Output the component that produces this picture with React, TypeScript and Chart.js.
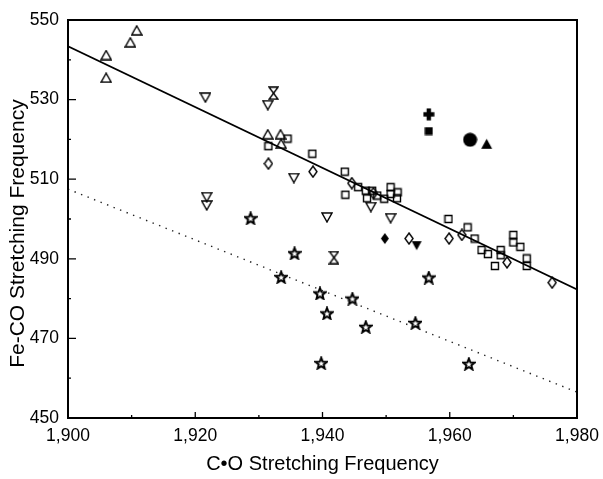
import { useEffect, useRef } from 'react';
import { Chart, registerables } from 'chart.js';
Chart.register(...registerables);

// ---- data (C-O frequency, Fe-CO frequency) ----
const openTriangleUp: [number, number][] = [
  [1906, 541.2], [1906, 535.5], [1909.8, 544.4], [1910.8, 547.4],
  [1931.4, 521.3], [1933.4, 521.3], [1933.5, 518.9],
];
const openTriangleDown: [number, number][] = [
  [1921.6, 530.5], [1931.4, 528.6], [1935.5, 510.3], [1940.7, 500.4],
  [1950.7, 500.2], [1947.6, 503.0], [1921.8, 505.5], [1921.8, 503.4],
];
const hourglass: [number, number][] = [
  [1932.3, 531.6], [1941.8, 490.3],
];
const openSquare: [number, number][] = [
  [1934.5, 520.2], [1931.5, 518.3], [1938.4, 516.4], [1943.5, 511.9],
  [1945.6, 508.0], [1943.6, 506.1], [1946.8, 507.1], [1947.8, 507.1],
  [1948.6, 505.9], [1947.0, 505.2], [1950.7, 508.0], [1950.7, 506.3],
  [1951.7, 505.2], [1949.7, 505.1], [1951.8, 506.7], [1959.8, 500.0],
  [1962.8, 497.9], [1963.9, 495.1], [1965.0, 492.2], [1966.0, 491.2],
  [1968.0, 492.2], [1968.0, 490.9], [1967.1, 488.2], [1970.0, 496.0],
  [1970.0, 494.1], [1971.1, 493.0], [1972.1, 490.1], [1972.1, 488.2],
];
const openDiamond: [number, number][] = [
  [1931.5, 513.9], [1938.5, 511.9], [1944.6, 509.0], [1948.0, 506.5],
  [1953.6, 495.1], [1959.9, 495.1], [1961.9, 496.0], [1969.0, 489.1],
  [1976.1, 484.0],
];
const openStar: [number, number][] = [
  [1928.7, 500.2], [1935.6, 491.4], [1933.5, 485.4], [1939.6, 481.3],
  [1944.7, 480.0], [1940.7, 476.3], [1946.8, 472.9], [1939.8, 463.8],
  [1954.6, 473.9], [1956.7, 485.3], [1963.0, 463.6],
];
const filledDiamond: [number, number][] = [[1949.8, 495.1]];
const filledTriangleDown: [number, number][] = [[1954.8, 493.3]];
const filledCross: [number, number][] = [[1956.7, 526.3]];
const filledSquare: [number, number][] = [[1956.7, 522.1]];
const filledCircle: [number, number][] = [[1963.2, 519.9]];
const filledTriangleUp: [number, number][] = [[1965.8, 518.9]];

const fitLine: [number, number][] = [[1900, 543.4], [1980, 482.3]];
const dottedLine: [number, number][] = [[1900, 507.5], [1980, 456.5]];

const xTickValues = [1900, 1920, 1940, 1960, 1980];
const xMinorTicks = [1910, 1930, 1950, 1970];
const yTickValues = [450, 470, 490, 510, 530, 550];
const yMinorTicks = [460, 480, 500, 520, 540];

const xTitle = 'C\u2022O Stretching Frequency';
const yTitle = 'Fe-CO Stretching Frequency     ';

// ---- marker images ----
function marker(kind: string): HTMLCanvasElement {
  const c = document.createElement('canvas');
  const sizes: Record<string, [number, number]> = {
    triUp: [12, 11], triDown: [12, 11], square: [10, 10], diamond: [10, 13],
    star: [14, 14], hourglass: [11, 14], fDiamond: [10, 13], fTriDown: [12, 11],
    fCross: [12, 13], fSquare: [9, 9], fCircle: [15, 15], fTriUp: [13, 12],
  };
  const [w, h] = sizes[kind];
  c.width = w; c.height = h;
  const ctx = c.getContext('2d')!;
  ctx.strokeStyle = '#000';
  ctx.fillStyle = '#000';
  ctx.lineWidth = 1.4;
  ctx.lineJoin = 'miter';
  const poly = (pts: number[][], fill = false) => {
    ctx.beginPath();
    pts.forEach(([x, y], i) => (i ? ctx.lineTo(x, y) : ctx.moveTo(x, y)));
    ctx.closePath();
    if (fill) ctx.fill(); else ctx.stroke();
  };
  switch (kind) {
    case 'triUp': poly([[w / 2, 1], [w - 1, h - 1], [1, h - 1]]); break;
    case 'triDown': poly([[1, 1], [w - 1, 1], [w / 2, h - 1]]); break;
    case 'square': poly([[1.5, 1.5], [w - 1.5, 1.5], [w - 1.5, h - 1.5], [1.5, h - 1.5]]); break;
    case 'diamond': poly([[w / 2, 1], [w - 1, h / 2], [w / 2, h - 1], [1, h / 2]]); break;
    case 'fDiamond': poly([[w / 2, 1], [w - 1, h / 2], [w / 2, h - 1], [1, h / 2]], true); break;
    case 'fTriDown': poly([[1, 1], [w - 1, 1], [w / 2, h - 1]], true); break;
    case 'fTriUp': poly([[w / 2, 1], [w - 1, h - 1], [1, h - 1]], true); break;
    case 'fSquare': ctx.fillRect(0.5, 0.5, w - 1, h - 1); break;
    case 'fCircle': ctx.beginPath(); ctx.arc(w / 2, h / 2, w / 2 - 0.5, 0, Math.PI * 2); ctx.fill(); break;
    case 'fCross':
      ctx.fillRect(w / 2 - 2.2, 0.5, 4.4, h - 1);
      ctx.fillRect(0.5, h / 2 - 2.2, w - 1, 4.4);
      break;
    case 'hourglass':
      poly([[1, 1], [w - 1, 1], [w / 2, h / 2]]);
      poly([[w / 2, h / 2], [w - 1, h - 1], [1, h - 1]]);
      break;
    case 'star': {
      ctx.lineWidth = 2;
      const pts: number[][] = [];
      for (let i = 0; i < 10; i++) {
        const r = i % 2 === 0 ? 6 : 2.6;
        const a = -Math.PI / 2 + (i * Math.PI) / 5;
        pts.push([w / 2 + r * Math.cos(a), h / 2 + 0.6 + r * Math.sin(a)]);
      }
      poly(pts);
      break;
    }
  }
  return c;
}

const toXY = (arr: [number, number][]) => arr.map(([x, y]) => ({ x, y }));

const framePlugin = {
  id: 'frame',
  afterDraw(chart: any) {
    const { ctx, chartArea, scales } = chart;
    const { left, right, top, bottom } = chartArea;
    const xs = scales.x, ys = scales.y;
    ctx.save();
    ctx.strokeStyle = '#000';
    ctx.lineWidth = 2;
    ctx.strokeRect(left, top, right - left, bottom - top);
    ctx.lineWidth = 1.3;
    ctx.beginPath();
    xTickValues.forEach((v) => {
      const px = xs.getPixelForValue(v);
      ctx.moveTo(px, bottom); ctx.lineTo(px, bottom - 6);
    });
    xMinorTicks.forEach((v) => {
      const px = xs.getPixelForValue(v);
      ctx.moveTo(px, bottom); ctx.lineTo(px, bottom - 3);
    });
    yTickValues.forEach((v) => {
      const py = ys.getPixelForValue(v);
      ctx.moveTo(left, py); ctx.lineTo(left + 8, py);
    });
    yMinorTicks.forEach((v) => {
      const py = ys.getPixelForValue(v);
      ctx.moveTo(left, py); ctx.lineTo(left + 3, py);
    });
    ctx.stroke();
    ctx.restore();
  },
};

export default function App() {
  const ref = useRef<HTMLCanvasElement>(null);
  useEffect(() => {
    const pointSet = (data: [number, number][], kind: string) => ({
      data: toXY(data),
      pointStyle: marker(kind),
      pointRadius: 5,
      pointHoverRadius: 5,
      showLine: false,
    });
    const chart = new Chart(ref.current!, {
      type: 'scatter',
      data: {
        datasets: [
          {
            data: toXY(fitLine), showLine: true, pointRadius: 0,
            borderColor: '#000', borderWidth: 1.6,
          },
          {
            data: toXY(dottedLine), showLine: true, pointRadius: 0,
            borderColor: '#222', borderWidth: 1.4, borderDash: [1.4, 5.6],
          },
          pointSet(openSquare, 'square'),
          pointSet(openDiamond, 'diamond'),
          pointSet(openTriangleUp, 'triUp'),
          pointSet(openTriangleDown, 'triDown'),
          pointSet(hourglass, 'hourglass'),
          pointSet(openStar, 'star'),
          pointSet(filledDiamond, 'fDiamond'),
          pointSet(filledTriangleDown, 'fTriDown'),
          pointSet(filledCross, 'fCross'),
          pointSet(filledSquare, 'fSquare'),
          pointSet(filledCircle, 'fCircle'),
          pointSet(filledTriangleUp, 'fTriUp'),
        ] as any,
      },
      options: {
        animation: false,
        responsive: false,
        layout: { padding: { left: 0, top: 20, right: 26, bottom: 0 } },
        plugins: { legend: { display: false }, tooltip: { enabled: false } },
        scales: {
          x: {
            type: 'linear', min: 1900, max: 1980,
            grid: { display: false, drawTicks: false },
            border: { display: false },
            afterBuildTicks: (s: any) => { s.ticks = xTickValues.map((v) => ({ value: v })); },
            afterFit: (s: any) => { s.height = 61; s.paddingLeft = 0; s.paddingRight = 0; },
            ticks: {
              color: '#000', padding: 8, maxRotation: 0,
              font: { family: 'Liberation Sans, Arial, sans-serif', size: 17.5 },
              callback: (v: any) => Number(v).toLocaleString('en-US'),
            },
            title: {
              display: true, text: xTitle, color: '#000',
              font: { family: 'Liberation Sans, Arial, sans-serif', size: 20 },
              padding: { top: 0, bottom: 3 },
            },
          },
          y: {
            type: 'linear', min: 450, max: 550,
            grid: { display: false, drawTicks: false },
            border: { display: false },
            afterBuildTicks: (s: any) => { s.ticks = yTickValues.map((v) => ({ value: v })); },
            afterFit: (s: any) => { s.width = 68; s.paddingTop = 0; s.paddingBottom = 0; },
            ticks: {
              color: '#000', padding: 9,
              font: { family: 'Liberation Sans, Arial, sans-serif', size: 17.5 },
              callback: (v: any) => String(v),
            },
            title: {
              display: true, text: yTitle, color: '#000',
              font: { family: 'Liberation Sans, Arial, sans-serif', size: 21 },
              padding: { top: 6, bottom: 0 },
            },
          },
        },
      },
      plugins: [framePlugin],
    } as any);
    return () => chart.destroy();
  }, []);
  return (
    <div style={{ position: 'absolute', left: 0, top: 0, width: 603, height: 479, background: '#fff' }}>
      <canvas ref={ref} width={603} height={479} style={{ display: 'block' }} />
    </div>
  );
}
